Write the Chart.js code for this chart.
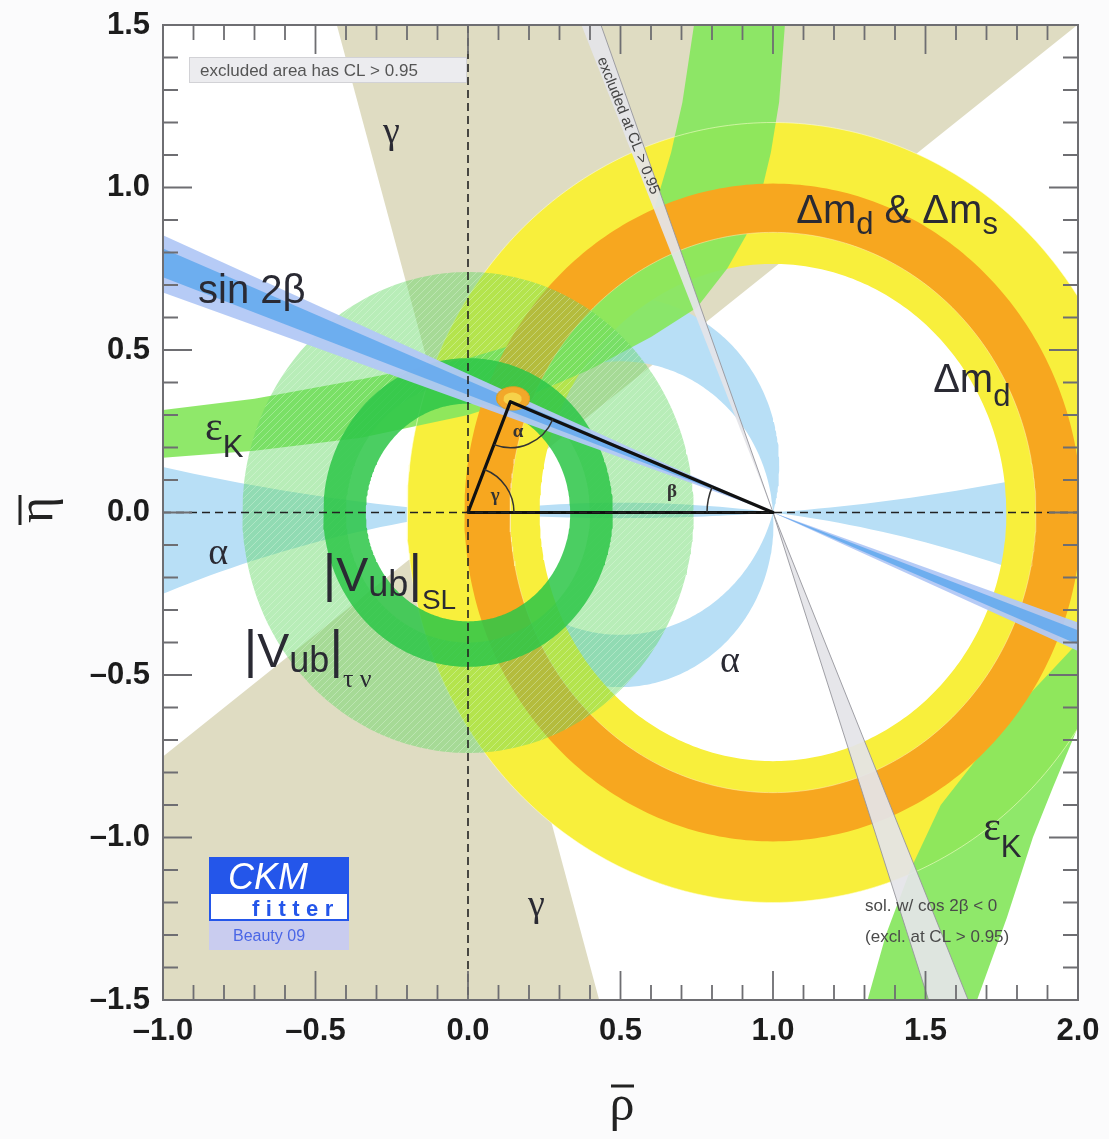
<!DOCTYPE html>
<html>
<head>
<meta charset="utf-8">
<title>CKM unitarity triangle fit</title>
<script src="https://cdn.jsdelivr.net/npm/chart.js"></script>
<style>
  html, body { margin: 0; padding: 0; background: #fbfbfc; }
  canvas { display: block; }
</style>
</head>
<body>
<canvas id="ckm" width="1109" height="1139"></canvas>
<script>
// ---------------------------------------------------------------------------
// Axis ticks
const xTicks = [-1.0, -0.5, 0.0, 0.5, 1.0, 1.5, 2.0];
const yTicks = [-1.5, -1.0, -0.5, 0.0, 0.5, 1.0, 1.5];

// Fitted apex of the unitarity triangle (rho-bar, eta-bar)
const apex = [0.139, 0.341];
// 95% CL blob around the apex: [centre rho, centre eta, half-width rho, half-width eta]
const apexBlob = [0.148, 0.351, 0.054, 0.036];
const apexCore = [0.146, 0.350, 0.030, 0.019];

// Rings: [centre rho, centre eta, inner radius, outer radius]
const dmdRing = [1.0, 0.0, 0.765, 1.20];      // Delta m_d
const dmsRing = [1.0, 0.0, 0.862, 1.012];     // Delta m_d & Delta m_s
const vubSLRing = [0.0, 0.0, 0.335, 0.475];   // |Vub| semileptonic
const vubTauNuRing = [0.0, 0.0, 0.40, 0.74];  // |Vub| from B -> tau nu

// gamma: allowed angular range at the origin (degrees)
const gammaRange = [36.9, 106.0];

// sin 2beta: band angles at (1,0), measured from the negative rho axis (degrees)
const sin2bCore = [19.9, 22.1];
const sin2bWide = [18.7, 23.1];

// alpha: circles through (0,0) and (1,0), given by the eta of their centres
const alphaLuneCentres = [0.144, -0.036];
const alphaAxisCentres = [7.21, -4.125];

// cos 2beta < 0 solution, excluded band corners
const excludedBand = [[0.372, 1.5], [0.436, 1.5], [1.0, 0.0], [1.64, -1.5], [1.51, -1.5], [1.0, 0.0]];

// epsilon_K hyperbola branches, edges read along the band
const epsKUpperTop = [[-1.05, 0.31], [-0.7, 0.35], [-0.35, 0.41], [0.0, 0.475], [0.2, 0.53], [0.35, 0.60],
  [0.45, 0.67], [0.53, 0.77], [0.60, 0.90], [0.666, 1.108], [0.703, 1.262], [0.741, 1.5], [0.75, 1.56]];
const epsKUpperBottom = [[-1.05, 0.165], [-0.7, 0.19], [-0.35, 0.23], [0.0, 0.30], [0.2, 0.36], [0.4, 0.44],
  [0.6, 0.54], [0.75, 0.63], [0.85, 0.751], [0.913, 0.855], [0.964, 0.994], [0.993, 1.108], [1.02, 1.262],
  [1.039, 1.5], [1.042, 1.56]];
const epsKLowerTop = [[2.05, -0.36], [2.0, -0.40], [1.85, -0.55], [1.70, -0.72], [1.55, -0.90], [1.45, -1.10],
  [1.37, -1.30], [1.31, -1.5], [1.29, -1.56]];
const epsKLowerBottom = [[2.05, -0.60], [2.0, -0.66], [1.918, -0.845], [1.852, -1.0], [1.767, -1.246],
  [1.669, -1.5], [1.65, -1.56]];

// ---------------------------------------------------------------------------
const SANS = '"Liberation Sans", Arial, Helvetica, sans-serif';
const SERIF = '"Liberation Serif", "Times New Roman", serif';
const INK = '#2a2a33';
const DEG = Math.PI / 180;

const P = (x, y) => ({ x, y });
const pairs = (list) => list.map(([x, y]) => P(x, y));

function arc(cx, cy, r, a0, a1, n) {
  n = n || Math.max(12, Math.ceil(Math.abs(a1 - a0) / 1.0));
  const out = [];
  for (let i = 0; i <= n; i++) {
    const a = (a0 + (a1 - a0) * i / n) * DEG;
    out.push(P(cx + r * Math.cos(a), cy + r * Math.sin(a)));
  }
  return out;
}
function ellipse([cx, cy, a, b]) {
  const out = [];
  for (let i = 0; i <= 90; i++) {
    const t = i / 90 * 2 * Math.PI;
    out.push(P(cx + a * Math.cos(t), cy + b * Math.sin(t)));
  }
  return out;
}
function ring([cx, cy, r0, r1]) {
  return [...arc(cx, cy, r1, 0, 360, 360), ...arc(cx, cy, r0, 360, 0, 360)];
}
function circleLine([cx, cy, r0, r1], which) {
  return arc(cx, cy, which === 'in' ? r0 : r1, 0, 360, 360);
}
function wedge(cx, cy, a0, a1) {
  return [P(cx, cy), ...arc(cx, cy, 6, a0, a1)];
}
function bowtie(cx, cy, a0, a1) {
  // band through (cx,cy) extending to both sides
  return [P(cx, cy), ...arc(cx, cy, 6, a0, a1, 4), P(cx, cy), ...arc(cx, cy, 6, a0 + 180, a1 + 180, 4)];
}
// circle through (0,0) and (1,0) whose centre sits at eta = h
function chordCircle(h) { return { cx: 0.5, cy: h, r: Math.hypot(0.5, h) }; }
function angleOf(c, x, y) { return Math.atan2(y - c.cy, x - c.cx) / DEG; }

function alphaLune() {
  const c1 = chordCircle(alphaLuneCentres[0]);
  const c2 = chordCircle(alphaLuneCentres[1]);
  return [...arc(c1.cx, c1.cy, c1.r, 0, 360, 360), ...arc(c2.cx, c2.cy, c2.r, 360, 0, 360)];
}
function alphaAxisPieces() {
  const up = chordCircle(alphaAxisCentres[0]);   // lower arc bounds from above
  const dn = chordCircle(alphaAxisCentres[1]);   // upper arc bounds from below
  const u0 = angleOf(up, 0, 0), u1 = angleOf(up, 1, 0);
  const d0 = angleOf(dn, 0, 0), d1 = angleOf(dn, 1, 0);
  const lens = [...arc(dn.cx, dn.cy, dn.r, d1, d0, 40), ...arc(up.cx, up.cy, up.r, u0, u1, 40)];
  const left = [...arc(up.cx, up.cy, up.r, u0, u0 - 12, 40), ...arc(dn.cx, dn.cy, dn.r, d0 + 20, d0, 40)];
  const right = [...arc(up.cx, up.cy, up.r, u1, u1 + 12, 40), ...arc(dn.cx, dn.cy, dn.r, d1 - 20, d1, 40)];
  return { lens, left, right };
}
function band(top, bottom) { return [...pairs(top), ...pairs(bottom).reverse()]; }

const canvas = document.getElementById('ckm');
const ctx = canvas.getContext('2d');

function hatchPattern() {
  const t = document.createElement('canvas');
  t.width = 7; t.height = 7;
  const g = t.getContext('2d');
  g.fillStyle = 'rgba(98,216,98,0.45)';
  g.fillRect(0, 0, 7, 7);
  g.strokeStyle = 'rgba(235,255,235,0.32)';
  g.lineWidth = 1;
  g.beginPath();
  g.moveTo(-1, 8); g.lineTo(8, -1);
  g.moveTo(-1, 1); g.lineTo(1, -1);
  g.moveTo(6, 8); g.lineTo(8, 6);
  g.stroke();
  return ctx.createPattern(t, 'repeat');
}

const NONE = 'rgba(0,0,0,0)';
const layers = [];
function addShape(points, color, extra) {
  layers.push(Object.assign({
    data: points, showLine: true, fill: 'shape', backgroundColor: color,
    borderColor: NONE, borderWidth: 0, pointRadius: 0, pointHoverRadius: 0, tension: 0
  }, extra || {}));
}
function addOutline(points, color) {
  layers.push({
    data: points, showLine: true, fill: false, borderColor: color, borderWidth: 1,
    pointRadius: 0, pointHoverRadius: 0, tension: 0
  });
}

// bottom layer first
addShape(wedge(0, 0, gammaRange[0], gammaRange[1]), '#dfdcc2');
addShape(wedge(0, 0, gammaRange[0] + 180, gammaRange[1] + 180), '#dfdcc2');
const ax = alphaAxisPieces();
addShape(alphaLune(), '#b8dff6');
addShape(ax.lens, '#b8dff6');
addShape(ax.left, '#b8dff6');
addShape(ax.right, '#b8dff6');
addShape(ring(dmdRing), '#f8ef3c');
addShape(band(epsKUpperTop, epsKUpperBottom), 'rgba(135,230,95,0.93)');
addShape(band(epsKLowerTop, epsKLowerBottom), 'rgba(135,230,95,0.93)');
addShape(ring(dmsRing), '#f7a71f');
// faint contour lines of the mixing constraints
addOutline(circleLine(dmdRing, 'out'), 'rgba(255,255,210,0.55)');
addOutline(circleLine(dmsRing, 'in'), 'rgba(255,240,190,0.5)');
addShape(ring(vubTauNuRing), hatchPattern());
addShape(ring(vubSLRing), 'rgba(45,198,72,0.86)');
addShape(pairs(excludedBand), 'rgba(228,228,232,0.93)', { borderColor: 'rgba(150,150,156,0.9)', borderWidth: 1 });
addShape(bowtie(1, 0, 180 - sin2bWide[1], 180 - sin2bWide[0]), 'rgba(178,200,245,0.95)');
addShape(bowtie(1, 0, 180 - sin2bCore[1], 180 - sin2bCore[0]), 'rgba(105,172,238,0.95)');
addShape(ellipse(apexBlob), '#f2a82a', { borderColor: '#e0a020', borderWidth: 1 });
addShape(ellipse(apexCore), '#f6d24a');
layers.push({
  data: [P(0, 0), P(1, 0), P(apex[0], apex[1]), P(0, 0)],
  showLine: true, fill: false, borderColor: '#111', borderWidth: 3.2,
  pointRadius: 0, pointHoverRadius: 0, tension: 0, borderJoinStyle: 'round'
});
layers.forEach((d, i) => { d.order = -i; });

// ---------------------------------------------------------------------------
// Text annotations (positions in rho-bar / eta-bar)
const annotations = [
  { at: [-0.885, 0.646], parts: [{ t: 'sin 2β', size: 40 }] },
  { at: [-0.862, 0.222], parts: [{ t: 'ε', size: 42, fam: SERIF }, { t: 'K', size: 31, dy: 17 }] },
  { at: [-0.852, -0.157], parts: [{ t: 'α', size: 38, fam: SERIF }] },
  { at: [-0.279, 1.138], parts: [{ t: 'γ', size: 38, fam: SERIF }] },
  { at: [0.197, -1.24], parts: [{ t: 'γ', size: 38, fam: SERIF }] },
  { at: [-0.476, -0.24], parts: [{ t: '|', size: 52 }, { t: 'V', size: 48 }, { t: 'ub', size: 36, dy: 5 },
    { t: '|', size: 52 }, { t: 'SL', size: 28, dy: 18 }] },
  { at: [-0.735, -0.474], parts: [{ t: '|', size: 52 }, { t: 'V', size: 48 }, { t: 'ub', size: 36, dy: 5 },
    { t: '|', size: 52 }, { t: 'τ ν', size: 26, fam: SERIF, dy: 20 }] },
  { at: [0.826, -0.492], parts: [{ t: 'α', size: 38, fam: SERIF }] },
  { at: [1.076, 0.892], parts: [{ t: 'Δm', size: 40 }, { t: 'd', size: 31, dy: 11 }, { t: ' & ', size: 40 },
    { t: 'Δm', size: 40 }, { t: 's', size: 31, dy: 11 }] },
  { at: [1.525, 0.372], parts: [{ t: 'Δm', size: 40 }, { t: 'd', size: 31, dy: 14 }] },
  { at: [1.689, -1.009], parts: [{ t: 'ε', size: 42, fam: SERIF }, { t: 'K', size: 31, dy: 17 }] },
  { at: [1.302, -1.225], parts: [{ t: 'sol. w/ cos 2β < 0', size: 17, color: '#4a4a4a' }] },
  { at: [1.302, -1.323], parts: [{ t: '(excl. at CL > 0.95)', size: 17, color: '#4a4a4a' }] }
];

function drawParts(c, x, y, parts) {
  let cx = x;
  for (const p of parts) {
    c.font = `${p.style || ''} ${p.weight || 'normal'} ${p.size}px ${p.fam || SANS}`;
    c.fillStyle = p.color || INK;
    c.fillText(p.t, cx, y + (p.dy || 0));
    cx += c.measureText(p.t).width;
  }
}

const overlay = {
  id: 'overlay',
  beforeDraw(chart) {
    const { ctx: c, chartArea: a } = chart;
    c.save();
    c.fillStyle = '#fbfbfc';
    c.fillRect(0, 0, chart.width, chart.height);
    c.fillStyle = '#ffffff';
    c.fillRect(a.left, a.top, a.right - a.left, a.bottom - a.top);
    c.restore();
  },
  afterDatasetsDraw(chart) {
    const { ctx: c, chartArea: a, scales: { x, y } } = chart;
    const X = v => x.getPixelForValue(v), Y = v => y.getPixelForValue(v);
    c.save();
    c.beginPath(); c.rect(a.left, a.top, a.right - a.left, a.bottom - a.top); c.clip();

    // dashed zero lines
    c.strokeStyle = '#222'; c.lineWidth = 1.6; c.setLineDash([8, 5]);
    c.beginPath();
    c.moveTo(X(0), a.top); c.lineTo(X(0), a.bottom);
    c.moveTo(a.left, Y(0)); c.lineTo(a.right, Y(0));
    c.stroke();
    c.setLineDash([]);

    // triangle angle arcs
    const O = [X(0), Y(0)], B = [X(1), Y(0)], A = [X(apex[0]), Y(apex[1])];
    const ang = (p, q) => Math.atan2(q[1] - p[1], q[0] - p[0]);
    c.strokeStyle = '#333'; c.lineWidth = 1.5;
    c.beginPath(); c.arc(A[0], A[1], 46, ang(A, B), ang(A, O)); c.stroke();
    c.beginPath(); c.arc(O[0], O[1], 46, ang(O, A), ang(O, B)); c.stroke();
    c.beginPath(); c.arc(B[0], B[1], 66, Math.PI, Math.PI + Math.abs(ang(B, A) + Math.PI)); c.stroke();
    c.font = `bold 19px ${SERIF}`; c.fillStyle = '#333'; c.textAlign = 'center'; c.textBaseline = 'middle';
    c.fillText('α', X(0.164), Y(0.246));
    c.fillText('γ', X(0.089), Y(0.052));
    c.fillText('β', X(0.669), Y(0.062));
    c.textAlign = 'left'; c.textBaseline = 'alphabetic';

    // rotated note inside the excluded band
    c.save();
    c.translate(X(0.525), Y(1.19));
    c.rotate(68.3 * DEG);
    c.font = `15px ${SANS}`; c.fillStyle = '#444'; c.textAlign = 'center'; c.textBaseline = 'middle';
    c.fillText('excluded at CL > 0.95', 0, 0);
    c.restore();

    // constraint labels
    for (const an of annotations) drawParts(c, X(an.at[0]), Y(an.at[1]), an.parts);

    // legend note
    c.fillStyle = '#ececef'; c.fillRect(189, 57, 277, 25);
    c.strokeStyle = '#d2d2d6'; c.lineWidth = 1; c.strokeRect(189.5, 57.5, 277, 25);
    c.font = `17px ${SANS}`; c.fillStyle = '#555';
    c.fillText('excluded area has CL > 0.95', 200, 76);

    // CKMfitter logo
    c.fillStyle = '#2456ea'; c.fillRect(209, 857, 140, 36);
    c.fillStyle = '#ffffff'; c.fillRect(209, 893, 140, 27);
    c.strokeStyle = '#2456ea'; c.lineWidth = 2; c.strokeRect(210, 893, 138, 27);
    c.fillStyle = '#c9ccef'; c.fillRect(209, 921, 140, 29);
    c.font = `italic 36px ${SANS}`; c.fillStyle = '#ffffff';
    c.fillText('CKM', 228, 889);
    c.font = `bold 22px ${SANS}`; c.fillStyle = '#2456ea';
    let fx = 252;
    for (const ch of 'fitter') { c.fillText(ch, fx, 916); fx += c.measureText(ch).width + 6.5; }
    c.font = `16px ${SANS}`; c.fillStyle = '#4a66e6';
    c.fillText('Beauty 09', 233, 941);
    c.restore();

    // frame and inward ticks on all four sides
    c.save();
    c.strokeStyle = '#6e6e72'; c.lineWidth = 2;
    c.strokeRect(a.left, a.top, a.right - a.left, a.bottom - a.top);
    c.lineWidth = 1.8;
    c.beginPath();
    for (let i = -10; i <= 20; i++) {
      const v = i / 10, px = X(v), len = i % 5 === 0 ? 29 : 15;
      c.moveTo(px, a.bottom); c.lineTo(px, a.bottom - len);
      c.moveTo(px, a.top); c.lineTo(px, a.top + len);
    }
    for (let i = -15; i <= 15; i++) {
      const v = i / 10, py = Y(v), len = i % 5 === 0 ? 29 : 15;
      c.moveTo(a.left, py); c.lineTo(a.left + len, py);
      c.moveTo(a.right, py); c.lineTo(a.right - len, py);
    }
    c.stroke();
    c.restore();
  },
  afterDraw(chart) {
    const c = chart.ctx;
    c.save();
    c.fillStyle = '#222'; c.strokeStyle = '#222';
    // rho-bar
    c.font = `50px ${SERIF}`; c.textAlign = 'center';
    c.fillText('ρ', 622, 1120);
    c.lineWidth = 3;
    c.beginPath(); c.moveTo(611, 1086); c.lineTo(634, 1086); c.stroke();
    // eta-bar, rotated
    c.translate(52, 510);
    c.rotate(-Math.PI / 2);
    c.fillText('η', 0, 0);
    c.beginPath(); c.moveTo(-15, -32); c.lineTo(15, -32); c.stroke();
    c.restore();
  }
};

const fmt = v => (v < 0 ? '\u2013' : '') + Math.abs(v).toFixed(1);

new Chart(ctx, {
  type: 'scatter',
  data: { datasets: layers },
  options: {
    responsive: false,
    animation: false,
    events: [],
    layout: { padding: { top: 25, right: 31, left: 0, bottom: 0 } },
    plugins: { legend: { display: false }, tooltip: { enabled: false } },
    scales: {
      x: {
        type: 'linear', min: -1, max: 2,
        afterFit: s => { s.height = 139; s.paddingLeft = 0; s.paddingRight = 0; },
        afterBuildTicks: s => { s.ticks = xTicks.map(v => ({ value: v })); },
        ticks: { callback: fmt, font: { family: SANS, size: 31, weight: 'bold' }, color: '#1c1c1c',
                 padding: 13, maxRotation: 0, autoSkip: false },
        grid: { display: false, drawTicks: false },
        border: { display: false }
      },
      y: {
        type: 'linear', min: -1.5, max: 1.5,
        afterFit: s => { s.width = 163; s.paddingTop = 0; s.paddingBottom = 0; },
        afterBuildTicks: s => { s.ticks = yTicks.map(v => ({ value: v })); },
        ticks: { callback: fmt, font: { family: SANS, size: 31, weight: 'bold' }, color: '#1c1c1c',
                 padding: 13, autoSkip: false },
        grid: { display: false, drawTicks: false },
        border: { display: false }
      }
    }
  },
  plugins: [overlay]
});
</script>
</body>
</html>
